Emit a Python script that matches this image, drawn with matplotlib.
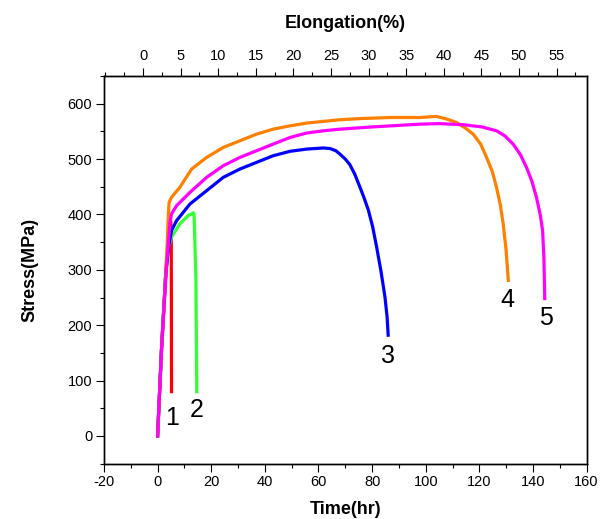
import matplotlib
matplotlib.use("Agg")
import matplotlib.pyplot as plt
from matplotlib.ticker import MultipleLocator, FixedLocator

plt.rcParams["font.family"] = ["Liberation Sans", "DejaVu Sans"]
plt.rcParams["axes.unicode_minus"] = False

# stress-time curves (time in hr, stress in MPa)
t1 = [0, 1.5, 3.0, 4.0, 4.6, 4.9, 5.1, 5.2]
s1 = [0, 160, 290, 360, 385, 388, 370, 80]

t2 = [0, 1.5, 3.0, 4.0, 5.2, 8.3, 11.4, 12.7, 13.3, 13.6, 14.3, 14.6]
s2 = [0, 160, 290, 340, 359, 383, 398, 401, 403, 400, 281, 80]

t3 = [0, 1.5, 3.0, 4.2, 5.2, 7.1, 12.1, 18.3, 24.5, 30.7, 36.9, 43.1, 49.4,
      55.6, 61.8, 64.3, 66.5, 68.0, 70.0, 71.7, 73.6, 75.5, 77.0, 78.6,
      80.2, 81.7, 83.3, 84.8, 85.6, 86.0]
s3 = [0, 160, 290, 345, 371, 389, 419, 443, 467, 482, 494, 506, 514,
      518, 520, 519, 515, 509, 500, 490, 472, 449, 430, 408,
      378, 341, 298, 251, 215, 182]

t4 = [0, 1.5, 3.0, 3.6, 4.0, 4.3, 5.2, 8.3, 12.7, 18.3, 24.5, 30.7, 36.9,
      43.1, 49.4, 55.6, 61.8, 68.0, 75.0, 86.6, 97.8, 104.0, 108.0, 111.5,
      114.5, 117.7, 120.5, 122.7, 124.8, 126.4, 127.8, 128.9, 130.0, 130.8]
s4 = [0, 160, 290, 350, 400, 422, 431, 449, 482, 503, 521, 533, 545,
      554, 560, 565, 568, 571, 573, 575, 575, 577, 572, 566,
      557, 545, 527, 503, 478, 449, 418, 383, 335, 281]

t5 = [0, 1.5, 3.4, 4.6, 5.2, 7.1, 12.1, 18.3, 24.5, 30.7, 36.9, 43.1, 49.4,
      55.6, 61.8, 68.0, 80.0, 97.8, 105.0, 114.0, 121.0, 126.4, 129.5,
      132.6, 135.3, 137.6, 139.6, 141.3, 142.7, 143.6, 144.1, 144.4]
s5 = [0, 161, 311, 385, 401, 416, 440, 467, 488, 503, 515, 527, 539,
      547, 551, 554, 558, 563, 564, 562, 558, 551, 542,
      527, 508, 485, 460, 431, 400, 371, 320, 248]

curves = [(t1, s1, "#ff0000"), (t2, s2, "#33ff33"), (t3, s3, "#0000ff"),
          (t4, s4, "#ff8000"), (t5, s5, "#ff00ff")]

curve_labels = ["1", "2", "3", "4", "5"]
label_x = [5.4, 14.7, 85.9, 130.3, 144.8]
label_y = [32, 47, 144, 245, 213]

elong_ticks = [0, 5, 10, 15, 20, 25, 30, 35, 40, 45, 50, 55]

fig = plt.figure(figsize=(6.01, 5.19), dpi=100)
ax = fig.add_axes([0.173, 0.1066, 0.803, 0.747])

for t, s, c in curves:
    ax.plot(t, s, color=c, lw=2.3, solid_joinstyle="round")

for txt, x, y in zip(curve_labels, label_x, label_y):
    ax.text(x, y, txt, fontsize=18, ha="center", va="center")

ax.set_xlim(-20, 160)
ax.set_ylim(-50, 650)
ax.xaxis.set_major_locator(MultipleLocator(20))
ax.xaxis.set_minor_locator(MultipleLocator(10))
ax.yaxis.set_major_locator(MultipleLocator(100))
ax.yaxis.set_minor_locator(MultipleLocator(50))
ax.tick_params(which="major", direction="out", length=5.5, width=0.8,
               labelsize=10.5, pad=3, top=False, right=False)
ax.tick_params(which="minor", direction="out", length=3, width=0.8,
               top=False, right=False)
ax.set_xlabel("Time(hr)", fontsize=13, fontweight="bold", labelpad=8)
ax.set_ylabel("Stress(MPa)", fontsize=13, fontweight="bold", labelpad=21)

top = ax.twiny()
top.set_xlim(-5.2, 59.0)
top.xaxis.set_major_locator(FixedLocator(elong_ticks))
top.xaxis.set_minor_locator(MultipleLocator(2.5))
top.tick_params(which="major", direction="out", length=5.5, width=0.8,
                labelsize=10.5, pad=4)
top.tick_params(which="minor", direction="out", length=3, width=0.8)
top.set_xlabel("Elongation(%)", fontsize=13, fontweight="bold", labelpad=15)

for a in (ax, top):
    for sp in a.spines.values():
        sp.set_linewidth(1.0)

fig.savefig("out.png", dpi=100)
